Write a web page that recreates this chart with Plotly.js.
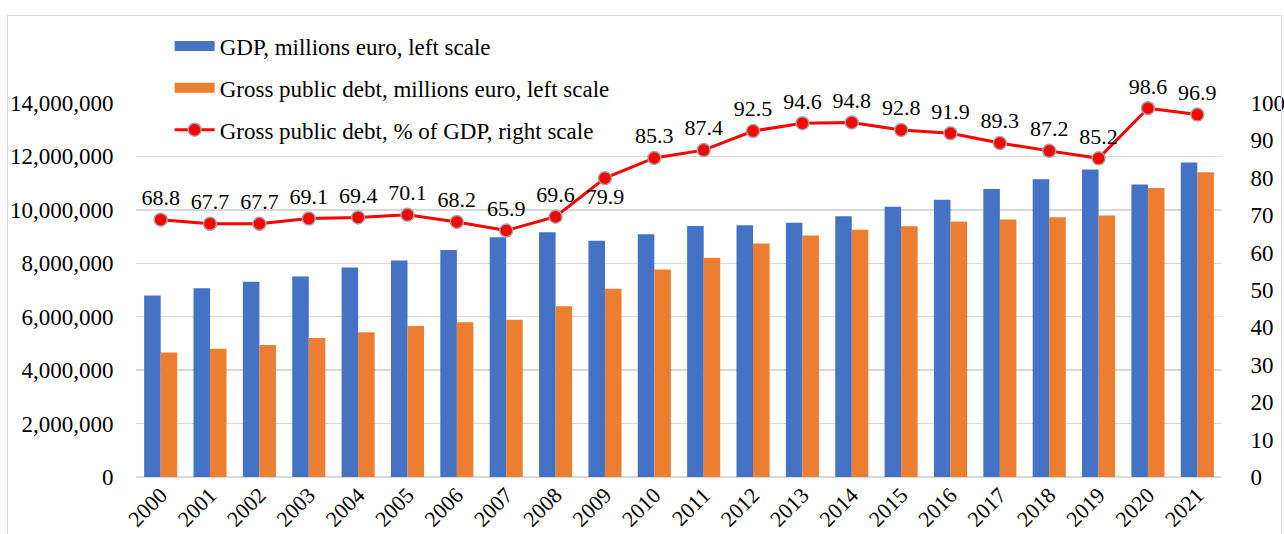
<!DOCTYPE html>
<html>
<head>
<meta charset="utf-8">
<script src="https://cdn.plot.ly/plotly-3.0.1.min.js"></script>
<style>
  html, body { margin: 0; padding: 0; background: #ffffff; }
  #wrap { position: relative; width: 1284px; height: 534px; overflow: hidden; }
  #frame { position: absolute; left: 7px; top: 15px; width: 1275px; height: 530px; border: 1px solid #d9d9d9; box-sizing: border-box; pointer-events: none; }
  #chart { position: absolute; left: 0; top: 0; width: 1284px; height: 534px; }
</style>
</head>
<body>
<div id="wrap">
  <div id="chart"></div>
  <div id="frame"></div>
</div>
<script>
const years = ['2000','2001','2002','2003','2004','2005','2006','2007','2008','2009','2010',
               '2011','2012','2013','2014','2015','2016','2017','2018','2019','2020','2021'];
const gdp = [6790000, 7070000, 7310000, 7510000, 7840000, 8100000, 8500000, 8970000, 9160000, 8840000, 9090000,
             9400000, 9420000, 9520000, 9760000, 10120000, 10380000, 10780000, 11150000, 11510000, 10950000, 11770000];
const debt = [4660000, 4800000, 4940000, 5200000, 5420000, 5650000, 5790000, 5890000, 6390000, 7050000, 7770000,
              8210000, 8740000, 9040000, 9260000, 9390000, 9560000, 9640000, 9720000, 9790000, 10820000, 11410000];
const debtPct = [68.8, 67.7, 67.7, 69.1, 69.4, 70.1, 68.2, 65.9, 69.6, 79.9, 85.3,
                 87.4, 92.5, 94.6, 94.8, 92.8, 91.9, 89.3, 87.2, 85.2, 98.6, 96.9];
const seriesNames = ['GDP, millions euro, left scale',
                     'Gross public debt, millions euro, left scale',
                     'Gross public debt, % of GDP, right scale'];

const FONT = '"Liberation Serif", "Times New Roman", Times, serif';
const BLUE = '#4472C4', ORANGE = '#ED7D31', RED = '#FF0000';
const labelPos = debtPct.map((v, i) => years[i] === '2009' ? 'bottom center' : 'top center');

const traces = [
  { type: 'bar', x: years, y: gdp, name: seriesNames[0], showlegend: false,
    marker: { color: BLUE }, hoverinfo: 'x+y' },
  { type: 'bar', x: years, y: debt, name: seriesNames[1], showlegend: false,
    marker: { color: ORANGE }, hoverinfo: 'x+y' },
  { type: 'scatter', mode: 'lines+markers+text', x: years, y: debtPct, yaxis: 'y2',
    name: seriesNames[2], legendgroup: 'c', legendrank: 3,
    line: { color: RED, width: 3 },
    marker: { color: RED, size: 13, line: { color: '#A5A5A5', width: 1.5 } },
    text: debtPct.map(v => v.toFixed(1)), textposition: labelPos,
    textfont: { family: FONT, size: 22, color: '#000000' }, cliponaxis: false },
  // legend swatches for the two bar series (wide rectangles like the original)
  { type: 'scatter', mode: 'lines', x: [null], y: [null], name: seriesNames[0],
    legendgroup: 'a', legendrank: 1, line: { color: BLUE, width: 11 }, hoverinfo: 'skip' },
  { type: 'scatter', mode: 'lines', x: [null], y: [null], name: seriesNames[1],
    legendgroup: 'b', legendrank: 2, line: { color: ORANGE, width: 11 }, hoverinfo: 'skip' }
];

const layout = {
  width: 1284, height: 534,
  margin: { l: 136, r: 62, t: 103, b: 57, pad: 0 },
  paper_bgcolor: 'rgba(0,0,0,0)', plot_bgcolor: '#ffffff',
  font: { family: FONT, size: 22, color: '#000000' },
  barmode: 'group', bargap: 0.33, bargroupgap: 0,
  showlegend: true,
  legend: { x: 0.031, y: 1.21, xanchor: 'left', yanchor: 'top', orientation: 'v',
            traceorder: 'grouped',
            font: { family: FONT, size: 23, color: '#000000' },
            tracegroupgap: 9, itemwidth: 40, bgcolor: 'rgba(0,0,0,0)' },
  xaxis: { type: 'category', range: [-0.5, 21.5], tickangle: -45, showgrid: false, zeroline: false,
           showline: false, ticks: '', automargin: false,
           tickfont: { family: FONT, size: 22, color: '#000000' } },
  yaxis: { range: [0, 14000000], dtick: 2000000, tickformat: ',d',
           showgrid: true, gridcolor: '#D9D9D9', gridwidth: 1.5,
           zeroline: true, zerolinecolor: '#D9D9D9', zerolinewidth: 1.5,
           showline: false, ticks: 'outside', ticklen: 17, tickcolor: 'rgba(0,0,0,0)', automargin: false,
           tickfont: { family: FONT, size: 23, color: '#000000' } },
  yaxis2: { overlaying: 'y', side: 'right', range: [0, 100], dtick: 10,
            showgrid: false, zeroline: false, showline: false,
            ticks: 'outside', ticklen: 23, tickcolor: 'rgba(0,0,0,0)', automargin: false,
            tickfont: { family: FONT, size: 23, color: '#000000' } }
};

Plotly.newPlot('chart', traces, layout, { displayModeBar: false, staticPlot: true });
</script>
</body>
</html>
